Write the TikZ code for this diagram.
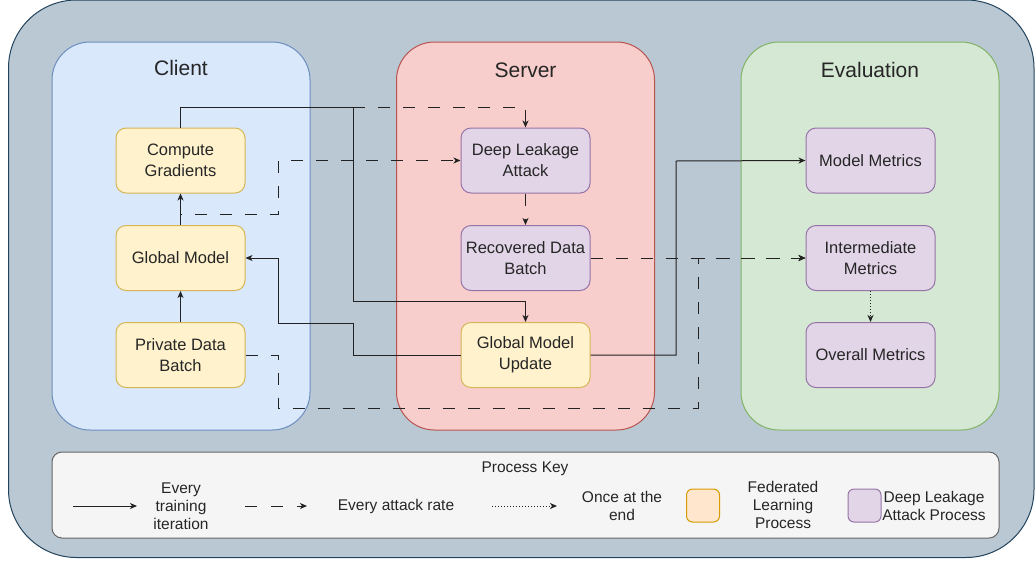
\documentclass[tikz,border=0pt]{standalone}
\usepackage{fontspec}
\setmainfont{Liberation Sans}
\usetikzlibrary{arrows.meta,calc}
\definecolor{outerfill}{HTML}{BAC8D3}
\definecolor{outerline}{HTML}{23445D}
\definecolor{clientfill}{HTML}{DAE8FC}
\definecolor{clientline}{HTML}{6C8EBF}
\definecolor{serverfill}{HTML}{F8CECC}
\definecolor{serverline}{HTML}{B85450}
\definecolor{evalfill}{HTML}{D5E8D4}
\definecolor{evalline}{HTML}{82B366}
\definecolor{flfill}{HTML}{FFF2CC}
\definecolor{flline}{HTML}{D6B656}
\definecolor{dlfill}{HTML}{E1D5E7}
\definecolor{dlline}{HTML}{9673A6}
\definecolor{keyfill}{HTML}{F5F5F5}
\definecolor{keyline}{HTML}{666666}
\definecolor{orfill}{HTML}{FFE6CC}
\definecolor{orline}{HTML}{D79B00}
\definecolor{txt}{HTML}{262626}
\definecolor{edge}{HTML}{222222}
\begin{document}
\begin{tikzpicture}[x=1pt,y=-1pt,
  panel/.style={draw, line width=1pt, rounded corners=38pt, minimum width=258pt, minimum height=388pt, inner sep=0pt},
  ptitle/.style={font=\fontsize{21}{25}\selectfont, text=txt},
  procbox/.style={draw, line width=1pt, rounded corners=10pt, minimum width=129pt, minimum height=65pt, align=center, inner sep=0pt, text=txt, font=\fontsize{16.5}{21}\selectfont},
  flbox/.style={procbox, fill=flfill, draw=flline},
  dlbox/.style={procbox, fill=dlfill, draw=dlline},
  conn/.style={draw=edge, line width=1pt, -{Stealth[length=7pt,width=6pt,inset=2pt]}},
  solidconn/.style={conn},
  dashconn/.style={conn, dash pattern=on 12pt off 13pt},
  dotconn/.style={conn, dash pattern=on 1pt off 2pt},
  keytext/.style={text=txt, align=center, font=\fontsize{15.5}{18}\selectfont},
  swatch/.style={draw, line width=1pt, rounded corners=6pt, minimum width=33pt, minimum height=33pt, inner sep=0pt}
]
\useasboundingbox (0,0) rectangle (1035,563);
% outer background
\draw[fill=outerfill, draw=outerline, line width=1pt, rounded corners=68pt] (8.5,0) rectangle (1034,557.5);
% panels
\node[panel, fill=clientfill, draw=clientline] (client) at (181,236) {};
\node[panel, fill=serverfill, draw=serverline] (server) at (525.5,236) {};
\node[panel, fill=evalfill, draw=evalline] (evaluation) at (870,236) {};
\node[ptitle] (clientT) at (181,68) {Client};
\node[ptitle] (serverT) at (525.5,70) {Server};
\node[ptitle] (evalT) at (870,70) {Evaluation};
% process nodes
\node[flbox] (cg) at (180.5,160.5) {Compute\\Gradients};
\node[flbox] (gm) at (180.5,258) {Global Model};
\node[flbox] (pdb) at (180.5,355) {Private Data\\Batch};
\node[dlbox] (dla) at (525.5,160.5) {Deep Leakage\\Attack};
\node[dlbox] (rdb) at (525.5,258) {Recovered Data\\Batch};
\node[flbox] (gmu) at (525.5,355) {Global Model\\Update};
\node[dlbox] (mm) at (870.5,160.5) {Model Metrics};
\node[dlbox] (im) at (870.5,258) {Intermediate\\Metrics};
\node[dlbox] (om) at (870.5,355) {Overall Metrics};
% connectors
\draw[solidconn] (cg.north) |- (353,107) -- (353,301) -| (gmu.north);
\draw[dashconn] (353,107) -| (dla.north);
\draw[solidconn] (gm.north) -- (cg.south);
\draw[dashconn] (gm.north) |- (278,214) |- (dla.west);
\draw[solidconn] (pdb.north) -- (gm.south);
\draw[dashconn] (pdb.east) -| (278,408) -- (698,408) |- (im.west);
\draw[dashconn] (rdb.east) -- (im.west);
\draw[solidconn] (gmu.west) -| (353,323) -- (278,323) |- (gm.east);
\draw[solidconn] (gmu.east) -| (676,161) -- (mm.west);
\draw[dashconn] (dla.south) -- (rdb.north);
\draw[dotconn] (im.south) -- (om.north);
% process key
\draw[fill=keyfill, draw=keyline, line width=1pt, rounded corners=10pt] (52,452) rectangle (999,538);
\node[keytext] (keyT) at (525,469) {Process Key};
\coordinate (k1a) at (73,506); \coordinate (k1b) at (137,506);
\draw[solidconn] (k1a) -- (k1b);
\node[keytext] (k1t) at (181,506) {Every\\training\\iteration};
\coordinate (k2a) at (245,506); \coordinate (k2b) at (307,506);
\draw[conn, dash pattern=on 12pt off 14pt] (k2a) -- (k2b);
\node[keytext] (k2t) at (396,506) {Every attack rate};
\coordinate (k3a) at (492,506); \coordinate (k3b) at (557,506);
\draw[dotconn] (k3a) -- (k3b);
\node[keytext] (k3t) at (622,506) {Once at the\\end};
\node[swatch, fill=orfill, draw=orline] (sw1) at (703,505.5) {};
\node[keytext] (k4t) at (783,505) {Federated\\Learning\\Process};
\node[swatch, fill=dlfill, draw=dlline] (sw2) at (864.5,505.5) {};
\node[keytext] (k5t) at (934,506) {Deep Leakage\\Attack Process};
\end{tikzpicture}
\end{document}
